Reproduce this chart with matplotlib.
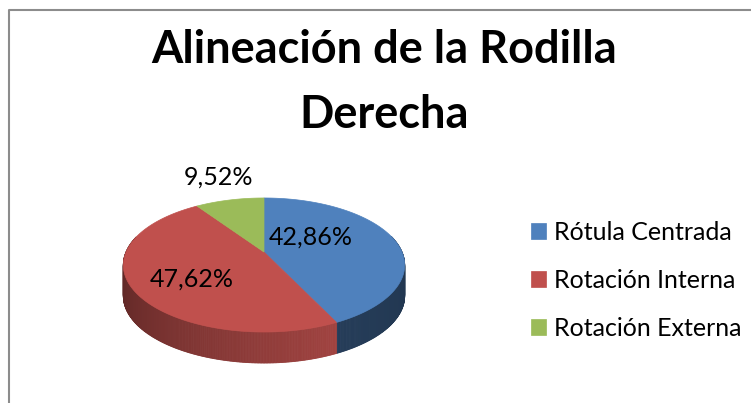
import numpy as np
import matplotlib.pyplot as plt
from matplotlib.patches import Polygon

#__Datos__###############################
categorias = ['Rótula Centrada', 'Rotación Interna', 'Rotación Externa']
valores = [42.86, 47.62, 9.52]
etiquetas = ['42,86%', '47,62%', '9,52%']
titulo = ['Alineación de la Rodilla', 'Derecha']
#########################################

#__Estilo__##############################
colores = ['#4F81BD', '#C0504D', '#9BBB59']
sombra = [(0.40, 0.47), (0.84, 0.40), (0.8, 0.8)]   # factor del lateral (izq -> der)
lab_ang = [34.3, 218.4, 105.7]   # grados, posicion de la etiqueta
lab_rad = [0.43, 0.62, 1.56]     # fraccion del radio
plt.rcParams['font.family'] = ['Lato', 'DejaVu Sans']
#########################################

W, H = 751, 403
fig = plt.figure(figsize=(W/100, H/100), dpi=100)
ax = fig.add_axes([0, 0, 1, 1])
ax.set_xlim(0, W)
ax.set_ylim(H, 0)
ax.axis('off')

# borde del grafico (solo se ven arriba e izquierda)
ax.plot([9, 9, W], [H, 10, 10], color='#8c8c8c', lw=1.5, solid_capstyle='butt')

#__Tarta 3D (con perspectiva)__##########
cx, cy = 264, 252     # centro proyectado
A, B = 138, 64.5      # semiejes
p = 0.194             # perspectiva
prof = 31             # grosor

def punto(t, dz=0):
    r = np.radians(t)
    u, v = np.cos(r), np.sin(r)
    k = 1 + p*v
    return cx + A*u/k, cy - B*v/k + dz

def punto_r(t, rr):
    r = np.radians(t)
    u, v = rr*np.cos(r), rr*np.sin(r)
    k = 1 + p*v
    return cx + A*u/k, cy - B*v/k

def oscurecer(c, f):
    rgb = np.array([int(c[i:i+2], 16) for i in (1, 3, 5)]) / 255
    return tuple(np.clip(rgb*f, 0, 1))

total = sum(valores)
ini = 90.0
tramos = []
for v in valores:
    fin = ini - 360*v/total
    tramos.append((fin, ini))
    ini = fin

# laterales (de atras hacia delante)
quads = []
for (t0, t1), col, (f0, f1) in zip(tramos, colores, sombra):
    ts = np.linspace(t0, t1, int(abs(t1 - t0)) * 2 + 2)
    vis = [(ts[i], ts[i+1]) for i in range(len(ts)-1)
           if np.sin(np.radians((ts[i]+ts[i+1])/2)) < 0.25]
    if not vis:
        continue
    lo, hi = vis[0][0], vis[-1][1]
    for s0, s1 in vis:
        m = (s0 + s1)/2
        f = f0 + (f1 - f0)*(hi - m)/(hi - lo)
        c = oscurecer(col, f)
        q = [punto(s0), punto(s1), punto(s1, prof), punto(s0, prof)]
        quads.append((-np.sin(np.radians(m)), q, c))
for _, q, c in sorted(quads, key=lambda z: z[0]):
    ax.add_patch(Polygon(q, closed=True, fc=c, ec=c, lw=0.6))

# caras superiores
caras = []
for (t0, t1), col, nom in zip(tramos, colores, categorias):
    ts = np.linspace(t0, t1, 200)
    pts = [(cx, cy)] + [punto(t) for t in ts]
    pg = Polygon(pts, closed=True, fc=col, ec=col, lw=0.5, label=nom)
    ax.add_patch(pg)
    caras.append(pg)

# etiquetas
for txt, ang, rr in zip(etiquetas, lab_ang, lab_rad):
    x, y = punto_r(ang, rr)
    ax.text(x, y, txt, ha='center', va='center', fontsize=18, color='black')
#########################################

#__Titulo__##############################
ax.text(384, 63, titulo[0], ha='center', va='baseline',
        fontsize=32.5, fontweight='bold')
ax.text(384, 128, titulo[1], ha='center', va='baseline',
        fontsize=32.5, fontweight='bold')
#########################################

#__Leyenda__#############################
ax.legend(handles=caras, loc='center left', bbox_to_anchor=(531, 280),
          bbox_transform=ax.transData, frameon=False, fontsize=18,
          handlelength=0.6, handleheight=0.6, handletextpad=0.3,
          labelspacing=1.0, borderpad=0, borderaxespad=0)
#########################################

fig.savefig('out.png', dpi=100)
